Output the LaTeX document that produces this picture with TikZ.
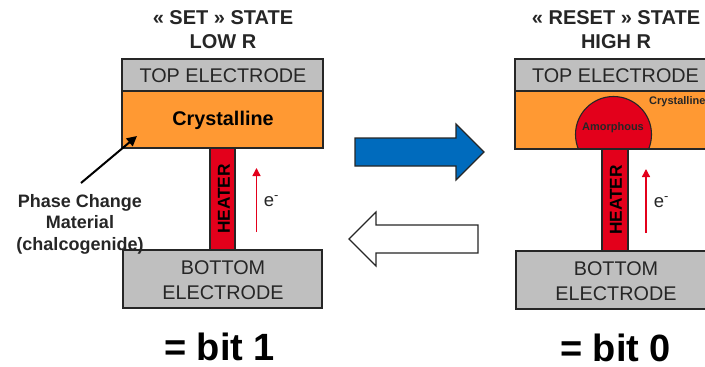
\documentclass[tikz,border=0pt]{standalone}
\usepackage{fontspec}
\setmainfont{Liberation Sans}
\usetikzlibrary{arrows.meta}
\definecolor{elgray}{RGB}{191,191,191}
\definecolor{crys}{RGB}{255,153,51}
\definecolor{heat}{RGB}{227,0,27}
\definecolor{blueb}{RGB}{0,107,189}
\definecolor{txt}{RGB}{38,38,38}
\tikzset{
 x=1pt,y=-1pt,
 layer/.style={draw=black!85,line width=1.1pt,minimum height=0pt},
 lbl/.style={font=\fontsize{19.8}{24.5}\selectfont,text=txt,align=center,inner sep=0pt},
 ttl/.style={font=\bfseries\fontsize{20}{24}\selectfont,text=txt,align=center,inner sep=0pt},
 bit/.style={font=\bfseries\fontsize{38}{40}\selectfont,text=black,inner sep=0pt},
 small/.style={font=\bfseries\fontsize{18}{21.5}\selectfont,text=txt,align=center,inner sep=0pt},
 redarr/.style={draw=heat,line width=1.4pt,-{Triangle[length=8pt,width=8pt]}},
}
\begin{document}
\begin{tikzpicture}
\useasboundingbox (0,0) rectangle (705,367);
% left cell
\draw[layer,fill=elgray] (122,59) rectangle (323,91);
\draw[layer,fill=crys] (122,91) rectangle (323,148);
\draw[layer,fill=heat] (210,148) rectangle (235,250);
\draw[layer,fill=elgray] (123,250) rectangle (322,308);
\node[ttl] at (223,29.5) {« SET » STATE\\LOW R};
\node[lbl] at (223,75.5) {TOP ELECTRODE};
\node[font=\bfseries\fontsize{19.8}{22}\selectfont,text=black,inner sep=0pt] at (223,120.5) {Crystalline};
\node[font=\bfseries\fontsize{17.3}{18}\selectfont,text=black,rotate=90,inner sep=0pt] at (224,199) {HEATER};
\node[lbl] at (223,280) {BOTTOM\\ELECTRODE};
\node[font=\fontsize{18.5}{20}\selectfont,text=txt,inner sep=0pt] at (271.5,201) {e\textsuperscript{-}};
\coordinate (r1a) at (256.5,232); \coordinate (r1b) at (256.5,168);
\draw[redarr] (r1a) -- (r1b);
\node[small] (pcm) at (80,224) {Phase Change\\Material\\(chalcogenide)};
\coordinate (pa) at (81,183); \coordinate (pb) at (137,136);
\draw[line width=2pt,-{Triangle[length=10pt,width=10pt]}] (pa) -- (pb);
\node[bit] at (219.5,347) {= bit 1};
% arrows
\draw[draw=black!85,line width=1.1pt,fill=blueb] (355,138) -- (456,138) -- (456,124) -- (484,152) -- (456,180) -- (456,166) -- (355,166) -- cycle;
\draw[draw=black!85,line width=1.1pt,fill=white] (478,225) -- (376,225) -- (376,212) -- (349,239) -- (376,266) -- (376,253) -- (478,253) -- cycle;
% right cell
\draw[layer,fill=elgray] (515,59) rectangle (720,91);
\draw[layer,fill=crys] (515,91) rectangle (720,149);
\begin{scope}
\clip (560,90) rectangle (670,149);
\draw[layer,fill=heat] (613.5,134.5) circle (38);
\end{scope}
\draw[layer] (515,149) -- (720,149);
\draw[layer,fill=heat] (602,149) rectangle (628,251);
\draw[layer,fill=elgray] (516,251) rectangle (720,309);
\node[ttl] at (616,30) {« RESET » STATE\\HIGH R};
\node[lbl] at (615.5,76) {TOP ELECTRODE};
\node[font=\bfseries\fontsize{11}{12}\selectfont,text=txt,inner sep=0pt,anchor=west] at (649,102) {Crystalline};
\node[font=\bfseries\fontsize{11}{12}\selectfont,text=txt,inner sep=0pt] at (613,128) {Amorphous};
\node[font=\bfseries\fontsize{17.3}{18}\selectfont,text=black,rotate=90,inner sep=0pt] at (616,200) {HEATER};
\node[lbl] at (616,281) {BOTTOM\\ELECTRODE};
\node[font=\fontsize{18.5}{20}\selectfont,text=txt,inner sep=0pt] at (661.5,202) {e\textsuperscript{-}};
\coordinate (r2a) at (646,233); \coordinate (r2b) at (646,169);
\draw[redarr] (r2a) -- (r2b);
\node[bit] at (615.5,348) {= bit 0};
\end{tikzpicture}
\end{document}
